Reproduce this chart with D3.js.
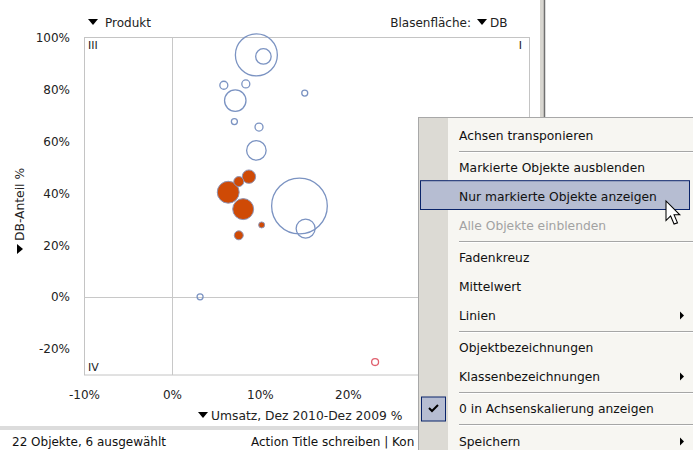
<!DOCTYPE html>
<html><head><meta charset="utf-8">
<script src="https://cdn.jsdelivr.net/npm/d3@7"></script>
<style>
html,body{margin:0;padding:0;background:#fff;}
svg{display:block;font-family:"DejaVu Sans",sans-serif;}
</style></head>
<body>
<svg id="c" width="693" height="450"></svg>
<script>
// ---- data ----
const umsatz   = [9.6, 10.4, 5.9, 8.4, 7.2, 15.1, 7.1, 9.9, 9.6, 14.5, 15.2, 3.2, 8.75, 7.6, 6.4, 8.1, 10.2, 7.6, 23.1];
const dbAnteil = [93.3, 92.7, 81.6, 82.1, 75.7, 78.6, 67.6, 65.5, 56.5, 35.1, 26.4, 0.1, 46.4, 44.5, 40.4, 33.9, 27.8, 23.8, -25];
const dbValue  = [440, 60, 16, 16, 115, 9, 9, 16, 95, 775, 90, 9, 45, 25, 120, 110, 9, 20, 12];
const status   = ["u","u","u","u","u","u","u","u","u","u","u","u","s","s","s","s","s","s","n"];
const xTicks = [-10, 0, 10, 20, 30, 40];
const yTicks = [-20, 0, 20, 40, 60, 80, 100];
const quadrants = ["III", "I", "IV"];
const menuItems = ["Achsen transponieren","Markierte Objekte ausblenden","Nur markierte Objekte anzeigen","Alle Objekte einblenden","Fadenkreuz","Mittelwert","Linien","Objektbezeichnungen","Klassenbezeichnungen","0 in Achsenskalierung anzeigen","Speichern"];
const menuSepAfter = [0, 3, 6, 8, 9];
const menuSub = [6, 8, 10];
const menuDisabled = [3];
const menuHover = 2;
const menuChecked = [9];

const svg = d3.select("#c");
const x = d3.scaleLinear().domain([-10, 40.6]).range([84, 529]);
const y = d3.scaleLinear().domain([-30, 100]).range([375, 37.5]);
const r = d3.scaleSqrt().domain([0, 800]).range([0, Math.sqrt(800)]);
const fmt = d => d + "%";

svg.append("defs").append("clipPath").attr("id", "statusClip")
  .append("rect").attr("x", 0).attr("y", 430).attr("width", 418).attr("height", 20);

// plot frame
svg.append("rect").attr("x", 84.5).attr("y", 37.5).attr("width", x(40.6)-84).attr("height", 375-37.5)
  .attr("fill", "#fff").attr("stroke", "#c4c4c4");
// zero lines
svg.append("line").attr("x1", Math.round(x(0))+0.5).attr("x2", Math.round(x(0))+0.5).attr("y1", 37.5).attr("y2", 375).attr("stroke", "#c8c8c8");
svg.append("line").attr("x1", 84.5).attr("x2", x(40.6)).attr("y1", Math.round(y(0))+0.5).attr("y2", Math.round(y(0))+0.5).attr("stroke", "#c8c8c8");

// axes
const ax = svg.append("g").attr("transform", "translate(0,375)")
  .call(d3.axisBottom(x).tickValues(xTicks).tickSize(0).tickPadding(15).tickFormat(fmt));
const ay = svg.append("g").attr("transform", "translate(84,0)")
  .call(d3.axisLeft(y).tickValues(yTicks).tickSize(0).tickPadding(14).tickFormat(fmt));
[ax, ay].forEach(a => {
  a.select(".domain").remove();
  a.selectAll("text").attr("font-family", "DejaVu Sans").attr("font-size", 12).attr("fill", "#222");
});

// quadrant labels
const qpos = [[88, 49, "start"], [522, 49, "end"], [88, 371, "start"]];
quadrants.forEach((q, i) => svg.append("text").attr("x", qpos[i][0]).attr("y", qpos[i][1])
  .attr("text-anchor", qpos[i][2]).attr("font-size", 11).attr("fill", "#222").text(q));

// bubbles
const data = umsatz.map((u, i) => ({x: u, y: dbAnteil[i], v: dbValue[i], s: status[i]}))
  .sort((a, b) => b.v - a.v);
svg.append("g").selectAll("circle").data(data).join("circle")
  .attr("cx", d => x(d.x)).attr("cy", d => y(d.y)).attr("r", d => r(d.v))
  .attr("fill", d => d.s === "s" ? "#cf4a06" : "none")
  .attr("stroke", d => d.s === "s" ? "#8e94b6" : d.s === "n" ? "#e0606e" : "#7b93c2")
  .attr("stroke-width", d => d.s === "s" ? 1 : 1.3);

// titles
function tri(g, cx, cy) {
  g.append("path").attr("d", `M${cx-5},${cy-3}L${cx+5},${cy-3}L${cx},${cy+3}Z`).attr("fill", "#000");
}
tri(svg, 93, 22);
svg.append("text").attr("x", 105).attr("y", 27).attr("font-size", 12).attr("fill", "#222").text("Produkt");
svg.append("text").attr("x", 471).attr("y", 27).attr("font-size", 12).attr("fill", "#222").attr("text-anchor", "end").text("Blasenfläche:");
tri(svg, 482, 22);
svg.append("text").attr("x", 490).attr("y", 27).attr("font-size", 12).attr("fill", "#222").text("DB");
tri(svg, 203, 415);
svg.append("text").attr("x", 211).attr("y", 419.5).attr("font-size", 12.3).attr("fill", "#222").text("Umsatz, Dez 2010-Dez 2009 %");
const yl = svg.append("g").attr("transform", "translate(24,254) rotate(-90)");
tri(yl, 5, -4);
yl.append("text").attr("x", 13).attr("y", 0).attr("font-size", 12.3).attr("fill", "#222").text("DB-Anteil %");

// splitter
svg.append("rect").attr("x", 540).attr("y", 0).attr("width", 4).attr("height", 450).attr("fill", "#d8d6d0");
svg.append("line").attr("x1", 544.5).attr("x2", 544.5).attr("y1", 0).attr("y2", 450).attr("stroke", "#707070").attr("stroke-width", 1.5);

// status bar
svg.append("rect").attr("x", 0).attr("y", 426).attr("width", 693).attr("height", 4).attr("fill", "#dcdcdc");
svg.append("text").attr("x", 12).attr("y", 446).attr("font-size", 12).attr("fill", "#111").text("22 Objekte, 6 ausgewählt");
svg.append("text").attr("x", 251).attr("y", 446).attr("font-size", 12).attr("fill", "#111")
  .attr("clip-path", "url(#statusClip)").text("Action Title schreiben | Kon");

// context menu
const m = svg.append("g");
m.append("rect").attr("x", 418.5).attr("y", 117.5).attr("width", 300).attr("height", 340).attr("fill", "#f7f6f2").attr("stroke", "#a8a8a8");
m.append("rect").attr("x", 419).attr("y", 118).attr("width", 29).attr("height", 340).attr("fill", "#dcdad4");
const y0 = 121, ih = 28.8, sh = 3.6;
let cy = y0;
menuItems.forEach((t, i) => {
  const top = cy;
  const mid = top + ih / 2;
  if (i === menuHover) {
    m.append("rect").attr("x", 420.5).attr("y", top - 1.5).attr("width", 269).attr("height", ih).attr("fill", "#b6bdd2").attr("stroke", "#0a246a");
  }
  if (menuChecked.includes(i)) {
    m.append("rect").attr("x", 421.5).attr("y", mid - 12).attr("width", 24).attr("height", 24).attr("fill", "#b6bdd2").attr("stroke", "#0a246a");
    m.append("path").attr("d", `M429,${mid-1}L432,${mid+2}L438,${mid-4}`).attr("fill", "none").attr("stroke", "#000").attr("stroke-width", 2);
  }
  m.append("text").attr("x", 459).attr("y", mid).attr("dy", "0.36em").attr("font-size", 12.3)
    .attr("fill", menuDisabled.includes(i) ? "#a2a2a2" : "#111").text(t);
  if (menuSub.includes(i)) {
    m.append("path").attr("d", `M680,${mid-4}L684,${mid}L680,${mid+4}Z`).attr("fill", "#000");
  }
  cy += ih;
  if (menuSepAfter.includes(i)) {
    m.append("line").attr("x1", 459).attr("x2", 693).attr("y1", Math.round(cy + sh / 2) - 0.5).attr("y2", Math.round(cy + sh / 2) - 0.5).attr("stroke", "#a6a6a6");
    m.append("line").attr("x1", 459).attr("x2", 693).attr("y1", Math.round(cy + sh / 2) + 0.5).attr("y2", Math.round(cy + sh / 2) + 0.5).attr("stroke", "#ffffff");
    cy += sh;
  }
});

// mouse cursor
svg.append("path")
  .attr("d", "M0,0L0,17L4,13L7,20L10,19L7,12L12,12Z")
  .attr("transform", "translate(666,201) scale(1.15)")
  .attr("fill", "#fff").attr("stroke", "#000").attr("stroke-width", 0.9).attr("stroke-linejoin", "miter");
</script>
</body></html>
